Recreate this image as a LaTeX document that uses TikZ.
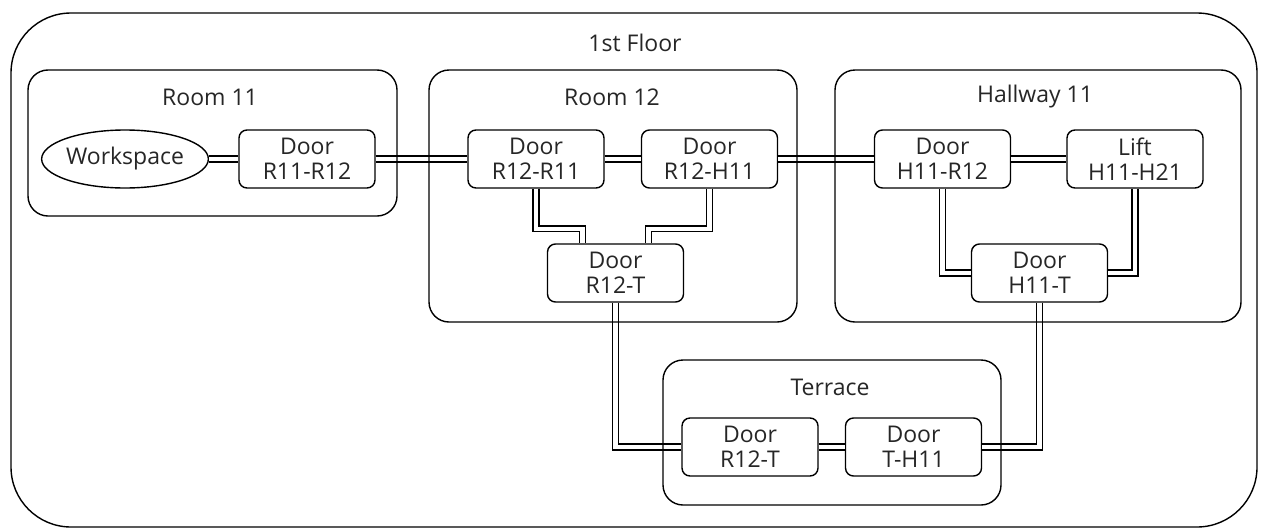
\documentclass[tikz,border=0pt]{standalone}
\usepackage{fontspec}
\setmainfont{Open Sans}
\usetikzlibrary{shapes.geometric}
\begin{document}
\begin{tikzpicture}[x=0.5pt,y=-0.5pt,
  every node/.style={font=\fontsize{11.5}{12.5}\selectfont, text=black!85},
  door/.style={draw, line width=0.7pt, rounded corners=4pt, fill=white, align=center,
    minimum width=68pt, minimum height=29pt, inner sep=0pt},
  place/.style={draw, ellipse, line width=0.7pt, fill=white, minimum width=77pt, minimum height=29pt, inner sep=0pt},
  container/.style={draw, line width=0.7pt, rounded corners=10pt, inner sep=0pt},
  title/.style={inner sep=0pt},
  conn/.style={draw, line width=0.7pt, double=white, double distance=2.2pt}]
\useasboundingbox (0,0) rectangle (1261,530);
% doors
\node[place] (ws) at (125,159) {Workspace};
\node[door] (d1112) at (307,159) {Door\\R11-R12};
\node[door] (d1211) at (536,159) {Door\\R12-R11};
\node[door] (d12h11) at (709.5,159) {Door\\R12-H11};
\node[door] (d12t) at (615.5,273) {Door\\R12-T};
\node[door] (dh1112) at (942.5,159) {Door\\H11-R12};
\node[door] (lift) at (1135,159) {Lift\\H11-H21};
\node[door] (dh11t) at (1039.5,273) {Door\\H11-T};
\node[door] (dtr12) at (750,447) {Door\\R12-T};
\node[door] (dth11) at (913.5,447) {Door\\T-H11};
% connectors
\draw[conn] (ws) -- (d1112);
\draw[conn] (d1112) -- (d1211);
\draw[conn] (d1211) -- (d12h11);
\draw[conn] (d12h11) -- (dh1112);
\draw[conn] (dh1112) -- (lift);
\draw[conn] (dtr12) -- (dth11);
\draw[conn] (d1211.south) -- ++(0,40) -| ([xshift=-16.5pt]d12t.north);
\draw[conn] (d12h11.south) -- ++(0,40) -| ([xshift=16.5pt]d12t.north);
\draw[conn] (dh1112.south) |- (dh11t.west);
\draw[conn] (lift.south) |- (dh11t.east);
\draw[conn] (d12t.south) |- (dtr12.west);
\draw[conn] (dh11t.south) |- (dth11.east);
% containers
\node[container, rounded corners=30pt, minimum width=623pt, minimum height=257pt] (floor) at (634,270) {};
\node[title] (floort) at (635,43) {1st Floor};
\node[container, minimum width=184.5pt, minimum height=73pt] (room11) at (212.5,143) {};
\node[title] (room11t) at (210,97) {Room 11};
\node[container, minimum width=184pt, minimum height=126pt] (room12) at (613,196) {};
\node[title] (room12t) at (612,97) {Room 12};
\node[container, minimum width=203pt, minimum height=126pt] (hall11) at (1038,196) {};
\node[title] (hall11t) at (1035,97) {Hallway 11};
\node[container, minimum width=169pt, minimum height=72.5pt] (terrace) at (832,432.5) {};
\node[title] (terracet) at (830,387) {Terrace};
\end{tikzpicture}
\end{document}
